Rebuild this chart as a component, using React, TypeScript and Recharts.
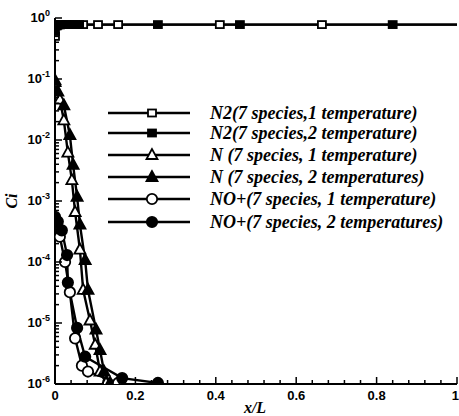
import React from 'react';
import { ComposedChart, Line, XAxis, YAxis, Legend, Label } from 'recharts';

// ---- tick definitions ----
const xMajorTicks = [0, 0.2, 0.4, 0.6, 0.8, 1];
const xTickLabels = ['0', '0.2', '0.4', '0.6', '0.8', '1'];
const xMinorStep = 0.04;
const yDecadeExponents = [-6, -5, -4, -3, -2, -1, 0];
const yMinorMantissas = [2, 3, 4, 5, 6, 7, 8, 9];

// ---- series data (x/L, Ci) ----
const n2OneTempX = [0, 0.004, 0.012, 0.022, 0.035, 0.05, 0.07, 0.107, 0.157, 0.41, 0.664, 1];
const n2OneTempY = [0.5, 0.74, 0.77, 0.78, 0.78, 0.78, 0.78, 0.78, 0.78, 0.78, 0.78, 0.78];

const n2TwoTempX = [0, 0.006, 0.015, 0.028, 0.045, 0.06, 0.256, 0.46, 0.84, 1];
const n2TwoTempY = [0.6, 0.76, 0.78, 0.78, 0.78, 0.78, 0.78, 0.78, 0.78, 0.78];

const nOneTempX = [0, 0.012, 0.022, 0.032, 0.042, 0.05, 0.062, 0.07, 0.087, 0.1, 0.112, 0.127];
const nOneTempY = [0.089, 0.046, 0.021, 0.0062, 0.0022, 6.6e-4, 1.6e-4, 3.5e-5, 1.1e-5, 4.4e-6, 1.6e-6, 1.04e-6];

const nTwoTempX = [0, 0.007, 0.022, 0.037, 0.045, 0.055, 0.062, 0.075, 0.082, 0.102, 0.112, 0.122, 0.137];
const nTwoTempY = [0.095, 0.062, 0.037, 0.012, 0.0039, 0.00117, 4.1e-4, 1.07e-4, 3.5e-5, 7.8e-6, 3.6e-6, 1.6e-6, 1.04e-6];

const noOneTempX = [0, 0.012, 0.025, 0.037, 0.05, 0.067, 0.082, 0.157];
const noOneTempY = [5e-4, 2.6e-4, 1e-4, 3.2e-5, 5.6e-6, 2.0e-6, 1.6e-6, 1.04e-6];

const noTwoTempX = [0, 0.007, 0.017, 0.03, 0.032, 0.055, 0.075, 0.167, 0.256];
const noTwoTempY = [5.5e-4, 4.6e-4, 3.3e-4, 1.3e-4, 4.6e-5, 8.3e-6, 2.8e-6, 1.25e-6, 1.04e-6];

const seriesNames = [
  'N2(7 species,1 temperature)',
  'N2(7 species,2 temperature)',
  'N (7 species, 1 temperature)',
  'N (7 species, 2 temperatures)',
  'NO+(7 species, 1 temperature)',
  'NO+(7 species, 2 temperatures)',
];

const zip = (xs: number[], ys: number[]) => xs.map((x, i) => ({ x, y: ys[i] }));

type Shape = 'square' | 'triangle' | 'circle';
const series: { name: string; data: { x: number; y: number }[]; shape: Shape; filled: boolean; lastMarker: boolean }[] = [
  { name: seriesNames[0], data: zip(n2OneTempX, n2OneTempY), shape: 'square', filled: false, lastMarker: false },
  { name: seriesNames[1], data: zip(n2TwoTempX, n2TwoTempY), shape: 'square', filled: true, lastMarker: false },
  { name: seriesNames[2], data: zip(nOneTempX, nOneTempY), shape: 'triangle', filled: false, lastMarker: true },
  { name: seriesNames[3], data: zip(nTwoTempX, nTwoTempY), shape: 'triangle', filled: true, lastMarker: true },
  { name: seriesNames[4], data: zip(noOneTempX, noOneTempY), shape: 'circle', filled: false, lastMarker: true },
  { name: seriesNames[5], data: zip(noTwoTempX, noTwoTempY), shape: 'circle', filled: true, lastMarker: true },
];

const xTicks: number[] = [];
for (let i = 0; i <= Math.round(1 / xMinorStep); i++) xTicks.push(Math.round(i * xMinorStep * 1000) / 1000);

const yTicks: number[] = [];
yDecadeExponents.forEach((e) => {
  yTicks.push(Math.pow(10, e));
  if (e < 0) yMinorMantissas.forEach((m) => yTicks.push(m * Math.pow(10, e)));
});

const Marker = ({ cx, cy, shape, filled }: { cx: number; cy: number; shape: Shape; filled: boolean }) => {
  const fill = filled ? '#000' : '#fff';
  const common = { fill, stroke: '#000', strokeWidth: 1.8 };
  if (shape === 'square') return <rect x={cx - 4} y={cy - 3.5} width={8} height={7} {...common} />;
  if (shape === 'triangle')
    return <polygon points={`${cx},${cy - 6} ${cx - 5.5},${cy + 4} ${cx + 5.5},${cy + 4}`} {...common} />;
  return <circle cx={cx} cy={cy} r={5.2} {...common} />;
};

const makeDot = (s: (typeof series)[number]) => (props: any) => {
  const { cx, cy, index } = props;
  if (cx == null || cy == null || (!s.lastMarker && index === s.data.length - 1)) return <g key={`d-${index}`} />;
  return (
    <g key={`d-${index}`}>
      <Marker cx={cx} cy={cy} shape={s.shape} filled={s.filled} />
    </g>
  );
};

const YTick = (props: any) => {
  const { x, y, payload } = props;
  const v = payload.value as number;
  const e = Math.log10(v);
  const major = Math.abs(e - Math.round(e)) < 1e-6;
  return (
    <g>
      <line x1={x} y1={y} x2={x + (major ? 7 : 4)} y2={y} stroke="#000" strokeWidth={1.5} />
      {major && (
        <text x={x - 5} y={y + 4} textAnchor="end" fontFamily="Liberation Sans, Arial, sans-serif" fontWeight="bold" fontSize={13} fill="#000">
          10
          <tspan dy={-6} fontSize={9}>
            {String(Math.round(e))}
          </tspan>
        </text>
      )}
    </g>
  );
};

const XTick = (props: any) => {
  const { x, y, payload } = props;
  const v = payload.value as number;
  const idx = xMajorTicks.findIndex((m) => Math.abs(m - v) < 1e-6);
  const major = idx >= 0;
  const last = idx === xMajorTicks.length - 1;
  return (
    <g>
      <line x1={x} y1={y} x2={x} y2={y - (major ? 7 : 4)} stroke="#000" strokeWidth={1.5} />
      {major && (
        <text
          x={last ? x + 2 : x}
          y={y + 16}
          textAnchor={last ? 'end' : 'middle'}
          fontFamily="Liberation Sans, Arial, sans-serif"
          fontWeight="bold"
          fontSize={13}
          fill="#000"
        >
          {xTickLabels[idx]}
        </text>
      )}
    </g>
  );
};

const LegendBox = () => {
  const rowY = [13, 33, 55, 77, 99, 122];
  return (
    <svg width={360} height={135}>
      {series.map((s, i) => (
        <g key={s.name}>
          <line x1={8} y1={rowY[i]} x2={90} y2={rowY[i]} stroke="#000" strokeWidth={2.4} />
          <Marker cx={52} cy={rowY[i]} shape={s.shape} filled={s.filled} />
          <text
            x={110}
            y={rowY[i] + 5.5}
            fontFamily="Liberation Serif, Times New Roman, serif"
            fontStyle="italic"
            fontWeight="bold"
            fontSize={18}
            fill="#000"
          >
            {s.name}
          </text>
        </g>
      ))}
    </svg>
  );
};

export default function App() {
  return (
    <div style={{ position: 'absolute', left: 0, top: 0, width: 459, height: 416, background: '#fff' }}>
      <ComposedChart width={459} height={416} margin={{ top: 18, right: 2, left: 0, bottom: 0 }}>
        <XAxis
          type="number"
          dataKey="x"
          domain={[0, 1]}
          allowDataOverflow
          ticks={xTicks}
          interval={0}
          tick={<XTick />}
          tickLine={false}
          tickSize={0}
          tickMargin={0}
          axisLine={{ stroke: '#000', strokeWidth: 2 }}
          height={32}
        >
          <Label
            content={() => (
              <text x={255} y={413} textAnchor="middle" fontFamily="Liberation Serif, Times New Roman, serif" fontStyle="italic" fontWeight="bold" fontSize={16} fill="#000">
                x/L
              </text>
            )}
          />
        </XAxis>
        <YAxis
          type="number"
          dataKey="y"
          scale="log"
          domain={[1e-6, 1]}
          allowDataOverflow
          ticks={yTicks}
          interval={0}
          tick={<YTick />}
          tickLine={false}
          tickSize={0}
          tickMargin={0}
          axisLine={{ stroke: '#000', strokeWidth: 2 }}
          width={55}
        >
          <Label
            content={() => (
              <text x={17} y={201} textAnchor="middle" transform="rotate(-90 17 201)" fontFamily="Liberation Serif, Times New Roman, serif" fontStyle="italic" fontWeight="bold" fontSize={16} fill="#000">
                Ci
              </text>
            )}
          />
        </YAxis>
        <Legend
          layout="horizontal"
          verticalAlign="middle"
          align="center"
          wrapperStyle={{ left: 100, top: 100, width: 360, height: 135 }}
          content={() => <LegendBox />}
        />
        {series.map((s) => (
          <Line
            key={s.name}
            name={s.name}
            data={s.data}
            dataKey="y"
            type="linear"
            stroke="#000"
            strokeWidth={2.4}
            dot={makeDot(s)}
            activeDot={false}
            isAnimationActive={false}
          />
        ))}
      </ComposedChart>
    </div>
  );
}
